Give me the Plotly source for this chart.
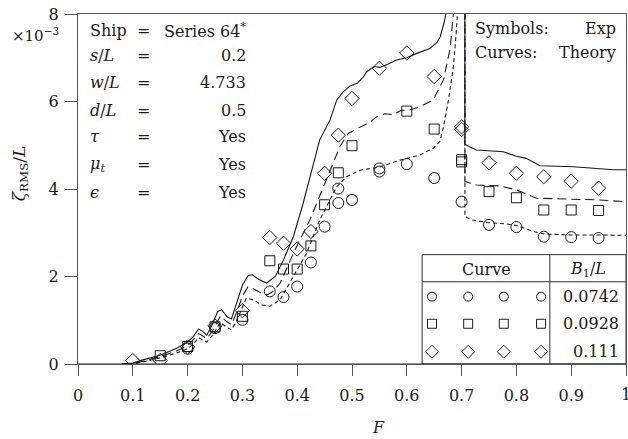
import plotly.graph_objects as go

# ---------------- data ----------------
# experimental points (symbols)
circ_F = [0.2, 0.25, 0.3, 0.35, 0.375, 0.4, 0.425, 0.45, 0.475, 0.475, 0.5, 0.55, 0.55,
          0.6, 0.65, 0.7, 0.75, 0.8, 0.85, 0.9, 0.95]
circ_v = [0.35, 0.82, 1.01, 1.66, 1.53, 1.77, 2.32, 3.14, 4.01, 3.68, 3.75, 4.47, 4.40,
          4.57, 4.25, 3.71, 3.18, 3.13, 2.91, 2.90, 2.88]

sq_F = [0.15, 0.2, 0.25, 0.3, 0.35, 0.375, 0.4, 0.425, 0.45, 0.475, 0.5, 0.6, 0.65,
        0.7, 0.7, 0.75, 0.8, 0.85, 0.9, 0.95]
sq_v = [0.19, 0.40, 0.85, 1.09, 2.36, 2.17, 2.17, 2.70, 3.64, 4.37, 4.99, 5.78, 5.37,
        4.62, 4.67, 3.94, 3.80, 3.52, 3.52, 3.51]

dia_F = [0.1, 0.15, 0.2, 0.25, 0.3, 0.35, 0.375, 0.4, 0.425, 0.45, 0.475, 0.5, 0.55,
         0.6, 0.65, 0.7, 0.7, 0.75, 0.8, 0.85, 0.9, 0.95]
dia_v = [0.08, 0.08, 0.39, 0.87, 1.22, 2.89, 2.76, 2.63, 3.03, 4.36, 5.23, 6.07, 6.76,
         7.11, 6.57, 5.36, 5.42, 4.60, 4.36, 4.28, 4.18, 4.02]

# theory curves
solid_F = [0.08, 0.10, 0.12, 0.15, 0.18, 0.20, 0.21, 0.22, 0.228, 0.235, 0.245, 0.255,
           0.262, 0.272, 0.28, 0.29, 0.30, 0.31, 0.318, 0.33, 0.344, 0.36, 0.375, 0.393,
           0.411, 0.43, 0.441, 0.46, 0.472, 0.484, 0.496, 0.51, 0.52, 0.527, 0.54, 0.551,
           0.565, 0.581, 0.60, 0.618, 0.642, 0.655, 0.661, 0.668, 0.673, 0.685, 0.70,
           0.706, 0.706, 0.727, 0.776, 0.80, 0.818, 0.843, 0.904, 0.977, 1.0]
solid_v = [0.0, 0.02, 0.10, 0.20, 0.36, 0.50, 0.62, 0.80, 0.74, 0.66, 0.90, 1.20,
           1.24, 1.08, 1.03, 1.40, 1.80, 2.02, 2.04, 1.93, 1.85, 2.00, 2.38, 2.91,
           3.68, 4.59, 5.12, 5.58, 6.03, 6.22, 6.35, 6.42, 6.55, 6.68, 6.80, 6.78,
           6.85, 6.95, 7.00, 7.10, 7.21, 7.35, 7.48, 7.80, 8.10, 9.50, 12.0,
           20.0, 5.02, 4.89, 4.85, 4.75, 4.70, 4.53, 4.51, 4.44, 4.44]

ldash_F = [0.08, 0.10, 0.12, 0.15, 0.18, 0.20, 0.21, 0.22, 0.235, 0.245, 0.26, 0.27,
           0.28, 0.29, 0.30, 0.31, 0.32, 0.335, 0.345, 0.355, 0.369, 0.393, 0.423,
           0.438, 0.454, 0.466, 0.478, 0.493, 0.515, 0.53, 0.545, 0.56, 0.575, 0.59,
           0.603, 0.624, 0.648, 0.667, 0.679, 0.685, 0.695, 0.706, 0.706, 0.727, 0.77,
           0.80, 0.837, 0.892, 0.95, 1.0]
ldash_v = [0.0, 0.01, 0.07, 0.17, 0.30, 0.42, 0.55, 0.70, 0.58, 0.75, 1.10, 0.98,
           0.90, 1.20, 1.55, 1.76, 1.72, 1.62, 1.58, 1.65, 1.85, 2.53, 3.29,
           3.75, 4.21, 4.59, 4.97, 5.27, 5.42, 5.50, 5.65, 5.72, 5.70, 5.80,
           5.80, 5.88, 6.03, 6.50, 7.20, 8.00, 10.0, 20.0, 4.17, 4.09, 4.07,
           3.98, 3.79, 3.77, 3.75, 3.71]

sdash_F = [0.08, 0.10, 0.12, 0.15, 0.18, 0.20, 0.21, 0.22, 0.235, 0.245, 0.26, 0.27,
           0.28, 0.29, 0.30, 0.307, 0.32, 0.335, 0.35, 0.369, 0.393, 0.417, 0.441,
           0.472, 0.49, 0.515, 0.55, 0.588, 0.624, 0.648, 0.66, 0.667, 0.676, 0.685,
           0.69, 0.694, 0.70, 0.706, 0.706, 0.72, 0.749, 0.782, 0.802, 0.831, 0.852,
           0.90, 0.95, 1.0]
sdash_v = [0.0, 0.01, 0.05, 0.14, 0.25, 0.35, 0.45, 0.60, 0.50, 0.65, 0.95, 0.85,
           0.78, 1.00, 1.30, 1.50, 1.47, 1.35, 1.32, 1.47, 2.00, 2.53, 3.29,
           4.05, 4.28, 4.43, 4.50, 4.66, 4.78, 4.93, 5.08, 5.42, 6.03, 6.79,
           7.55, 8.30, 12.0, 20.0, 3.37, 3.29, 3.23, 3.20, 3.16, 3.03, 2.97,
           2.95, 2.95, 2.94]

x_ticks = [0, 0.1, 0.2, 0.3, 0.4, 0.5, 0.6, 0.7, 0.8, 0.9, 1]
x_ticklabels = ["0", "0.1", "0.2", "0.3", "0.4", "0.5", "0.6", "0.7", "0.8", "0.9", "1"]
y_ticks = [0, 2, 4, 6, 8]
y_ticklabels = ["0", "2", "4", "6", "8"]

# table (legend) contents
table_B1L = ["0.0742", "0.0928", "0.111"]
table_symbols = ["circle-open", "square-open", "diamond-open"]

# info block
info_labels = ["Ship", "<i>s</i>/<i>L</i>", "<i>w</i>/<i>L</i>", "<i>d</i>/<i>L</i>",
               "<i>τ</i>", "<i>μ<sub>t</sub></i>", "<i>ϵ</i>"]
info_values = ["Series 64<sup>*</sup>", "0.2", "4.733", "0.5", "Yes", "Yes", "Yes"]

# ---------------- figure ----------------
FONT = "DejaVu Serif"
INK = "#1a1a1a"
fig = go.Figure()

line_w = 1.1
fig.add_trace(go.Scatter(x=solid_F, y=solid_v, mode="lines",
                         line=dict(color=INK, width=line_w), hoverinfo="skip"))
fig.add_trace(go.Scatter(x=ldash_F, y=ldash_v, mode="lines",
                         line=dict(color=INK, width=line_w, dash="9px,5px"), hoverinfo="skip"))
fig.add_trace(go.Scatter(x=sdash_F, y=sdash_v, mode="lines",
                         line=dict(color=INK, width=line_w, dash="4px,3px"), hoverinfo="skip"))

mk_line = dict(color=INK, width=1)
fig.add_trace(go.Scatter(x=circ_F, y=circ_v, mode="markers",
                         marker=dict(symbol="circle-open", size=11, color=INK, line=mk_line)))
fig.add_trace(go.Scatter(x=sq_F, y=sq_v, mode="markers",
                         marker=dict(symbol="square-open", size=10, color=INK, line=mk_line)))
fig.add_trace(go.Scatter(x=dia_F, y=dia_v, mode="markers",
                         marker=dict(symbol="diamond-open", size=11, color=INK, line=mk_line)))

# table markers
tab_x = [0.646, 0.712, 0.777, 0.845]
tab_rows_y = [1.54, 0.92, 0.28]
for sym, yy in zip(table_symbols, tab_rows_y):
    fig.add_trace(go.Scatter(x=tab_x, y=[yy] * len(tab_x), mode="markers", cliponaxis=False,
                             marker=dict(symbol=sym, size=9 if sym != "diamond-open" else 10,
                                         color=INK, line=mk_line)))

shapes = [
    dict(type="rect", xref="x", yref="y", x0=0.628, x1=1.0, y0=0.0, y1=2.5,
         line=dict(color="#333", width=1), fillcolor="rgba(0,0,0,0)"),
    dict(type="line", xref="x", yref="y", x0=0.628, x1=1.0, y0=1.88, y1=1.88,
         line=dict(color="#333", width=1)),
    dict(type="line", xref="x", yref="y", x0=0.861, x1=0.861, y0=0.0, y1=2.5,
         line=dict(color="#333", width=1)),
    # darker bottom axis line (y = 0)
    dict(type="line", xref="x", yref="y", x0=0, x1=1, y0=0, y1=0,
         line=dict(color="#222", width=1.2)),
]

ann = []
tf = dict(family=FONT, size=16, color=INK)
row_y = [7.63, 7.06, 6.44, 5.80, 5.19, 4.55, 3.93]
for lab, val, yy in zip(info_labels, info_values, row_y):
    ann.append(dict(x=0.018, y=yy, xref="x", yref="y", text=lab, showarrow=False,
                    xanchor="left", yanchor="middle", font=tf))
    ann.append(dict(x=0.12, y=yy, xref="x", yref="y", text="=", showarrow=False,
                    xanchor="center", yanchor="middle", font=tf))
    ann.append(dict(x=0.311, y=yy, xref="x", yref="y", text=val, showarrow=False,
                    xanchor="right", yanchor="middle", font=tf))

ann += [
    dict(x=0.721, y=7.68, xref="x", yref="y", text="Symbols:", showarrow=False,
         xanchor="left", yanchor="middle", font=tf),
    dict(x=0.985, y=7.68, xref="x", yref="y", text="Exp", showarrow=False,
         xanchor="right", yanchor="middle", font=tf),
    dict(x=0.721, y=7.13, xref="x", yref="y", text="Curves:", showarrow=False,
         xanchor="left", yanchor="middle", font=tf),
    dict(x=0.985, y=7.13, xref="x", yref="y", text="Theory", showarrow=False,
         xanchor="right", yanchor="middle", font=tf),
    dict(x=0.745, y=2.17, xref="x", yref="y", text="Curve", showarrow=False,
         xanchor="center", yanchor="middle", font=tf),
    dict(x=0.93, y=2.17, xref="x", yref="y", text="<i>B</i><sub>1</sub>/<i>L</i>",
         showarrow=False, xanchor="center", yanchor="middle", font=tf),
]
for val, yy in zip(table_B1L, tab_rows_y):
    ann.append(dict(x=0.99, y=yy, xref="x", yref="y", text=val, showarrow=False,
                    xanchor="right", yanchor="middle", font=tf))

ann += [
    dict(x=-0.106, y=0.545, xref="paper", yref="paper", text="<i>ζ</i><sub>RMS</sub>/<i>L</i>",
         textangle=-90, showarrow=False, xanchor="center", yanchor="middle",
         font=dict(family=FONT, size=17, color=INK)),
    dict(x=-0.031, y=0.94, xref="paper", yref="paper", text="×10<sup>−3</sup>",
         showarrow=False, xanchor="right", yanchor="middle", font=dict(family=FONT, size=15, color=INK)),
    dict(x=0.549, y=-0.18, xref="paper", yref="paper", text="<i>F</i>",
         showarrow=False, xanchor="center", yanchor="middle", font=tf),
    # last x tick label (sits at the page edge)
    dict(x=x_ticks[-1], y=-0.088, xref="x", yref="paper", text=x_ticklabels[-1],
         showarrow=False, xanchor="center", yanchor="middle", font=tf),
]

axis_common = dict(showgrid=False, zeroline=False, showline=True, linecolor="#555",
                   linewidth=1.2, mirror=True, ticks="outside", tickcolor="#555",
                   tickwidth=1.2, tickfont=dict(family=FONT, size=16, color=INK))

fig.update_layout(
    width=628, height=439,
    margin=dict(l=78, r=2, t=14, b=75),
    paper_bgcolor="white", plot_bgcolor="white",
    showlegend=False,
    shapes=shapes, annotations=ann,
    xaxis=dict(range=[0, 1], tickvals=x_ticks, ticktext=x_ticklabels[:-1] + [""], ticklen=11,
               ticklabelstandoff=6, **axis_common),
    yaxis=dict(range=[0, 8], tickvals=y_ticks, ticktext=y_ticklabels, ticklen=12,
               ticklabelstandoff=3, **axis_common),
)

fig.write_html("out.html", config={"displayModeBar": False},
               post_script="document.body.style.margin='0';document.body.style.overflow='hidden';")
